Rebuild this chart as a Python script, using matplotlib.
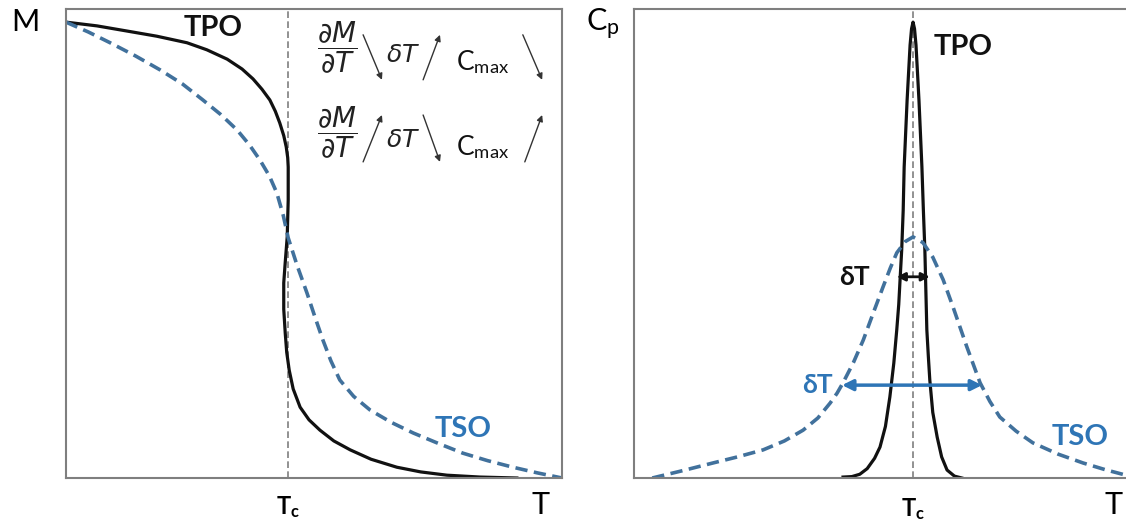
import matplotlib
matplotlib.use("Agg")
import matplotlib.pyplot as plt
from matplotlib.transforms import blended_transform_factory

plt.rcParams['font.family'] = ['Lato', 'DejaVu Sans']
plt.rcParams['mathtext.fontset'] = 'custom'
plt.rcParams['mathtext.rm'] = 'Lato'
plt.rcParams['mathtext.it'] = 'Lato:italic'
plt.rcParams['mathtext.bf'] = 'Lato:bold'

### data (T and M / Cp in arbitrary units 0..100)
Tc_left = 44.8
Tc_right = 56.6

# M(T), left panel
tpo_m_T = [0, 6.25, 12.3, 18.3, 24.4, 28.4, 32.5, 35.5, 37.7, 39.5, 41.1, 42.2, 43.1,
           43.9, 44.4, 44.7, 44.8, 44.8, 44.6, 44.2, 43.9, 43.9, 44.2, 44.5, 45.0,
           45.8, 47.2, 49.0, 51.2, 54.0, 57.3, 61.5, 66.7, 71.5, 76.8, 83.5, 90.9]
tpo_m_M = [97.2, 96.4, 95.3, 94.2, 92.8, 91.3, 89.3, 87.2, 85.1, 82.9, 80.6, 78.2, 75.7,
           73.0, 70.6, 68.3, 66.3, 59.3, 51.4, 46.0, 41.6, 36.0, 30.9, 26.8, 23.0,
           19.0, 15.1, 12.4, 10.2, 7.9, 6.0, 4.0, 2.3, 1.3, 0.6, 0.2, 0]
tso_m_T = [0, 4.5, 8.9, 14.0, 19.0, 23.5, 27.6, 31.2, 34.5, 37.0, 39.1, 41.0, 42.5,
           43.8, 44.8, 46.6, 48.6, 50.2, 51.8, 53.4, 55.2, 58.0, 61.3, 65.5, 70.0,
           75.0, 80.0, 85.0, 90.1, 95.0, 100]
tso_m_M = [97.2, 95.1, 92.8, 90.0, 87.0, 84.0, 80.6, 77.5, 74.2, 71.0, 67.8, 64.4, 60.8,
           56.0, 51.2, 45.3, 39.4, 34.3, 29.4, 25.0, 20.9, 17.4, 14.5, 11.9, 9.6,
           7.4, 5.3, 3.7, 2.3, 1.1, 0]

# Cp(T), right panel
tpo_c_T = [42.4, 44.2, 45.8, 47.3, 48.8, 49.9, 51.0, 51.9, 52.7, 53.3, 53.7, 54.0, 54.3,
           54.6, 54.8, 55.1, 55.4, 55.7, 56.0, 56.3, 56.6, 56.9, 57.2, 57.5, 57.8, 58.1,
           58.4, 58.7, 59.0, 59.2, 59.4, 59.7, 60.0, 60.6, 61.5, 62.4, 63.5, 65.0, 66.5]
tpo_c_C = [0.2, 0.3, 0.8, 2.0, 4.2, 6.6, 11.0, 17.3, 24.5, 31.6, 37.0, 42.9, 48.6,
           57.0, 66.3, 73.5, 80.6, 86.5, 92.3, 95.8, 97.2, 95.8, 92.3, 86.5, 80.6, 73.5,
           66.3, 57.0, 48.6, 40.0, 31.6, 26.0, 20.9, 14.0, 8.7, 4.5, 1.7, 0.4, 0]
tso_c_T = [3.7, 10.0, 16.0, 21.0, 26.2, 30.5, 34.3, 37.3, 39.8, 41.2, 42.4, 44.5, 46.5,
           48.5, 50.5, 52.0, 53.3, 55.0, 56.6, 58.6, 60.6, 62.7, 64.7, 67.5, 70.2, 72.2,
           74.2, 77.5, 80.9, 86.0, 91.1, 95.5, 99.8]
tso_c_C = [0, 1.6, 3.2, 4.5, 6.0, 7.9, 10.2, 12.8, 16.0, 18.1, 20.3, 24.6, 29.4,
           35.1, 40.7, 44.8, 48.0, 50.4, 51.4, 50.2, 47.1, 42.3, 36.5, 28.0, 20.3, 16.3,
           13.0, 10.0, 7.5, 5.1, 3.2, 1.8, 0.6]

# widths (delta T) at chosen heights: (left, right, height)
dT_tpo = (53.3, 60.0, 42.9)
dT_tso = (42.2, 70.6, 19.8)

# trend arrows next to the formulas: (tail, head)
trend_row1 = [((59.9, 94.5), (63.7, 84.9)), ((72.0, 84.9), (75.4, 94.5)), ((92.1, 94.5), (96.0, 84.9))]
trend_row2 = [((59.9, 67.4), (63.7, 77.4)), ((72.0, 77.4), (75.4, 67.4)), ((92.5, 67.4), (96.0, 77.4))]
row_y = [91.7, 73.6]

black = '#111111'
dash_blue = '#41719C'
lab_blue = '#2E75B6'
gray = '#7f7f7f'

fig = plt.figure(figsize=(11.26, 5.30), dpi=100)
ax1 = fig.add_axes([66/1126, 1-478/530, 496/1126, 469/530])
ax2 = fig.add_axes([634/1126, 1-478/530, 493/1126, 469/530])

for ax in (ax1, ax2):
    ax.set_xlim(0, 100)
    ax.set_ylim(0, 100)
    ax.set_xticks([])
    ax.set_yticks([])
    for s in ax.spines.values():
        s.set_color(gray)
        s.set_linewidth(1.5)
ax2.spines['right'].set_visible(False)

# left panel
ax1.axvline(Tc_left, color=gray, lw=1.2, ls=(0, (4, 2)))
ax1.plot(tpo_m_T, tpo_m_M, color=black, lw=2.3, solid_joinstyle='round')
ax1.plot(tso_m_T, tso_m_M, color=dash_blue, lw=2.6, dashes=(3.4, 1.8))
ax1.text(29.6, 96.0, 'TPO', fontsize=21, fontweight='bold', color=black, ha='center', va='center')
ax1.text(80.0, 10.5, 'TSO', fontsize=21, fontweight='bold', color=lab_blue, ha='center', va='center')

for y in row_y:
    ax1.text(54.6, y, r'$\dfrac{\partial M}{\partial T}$', fontsize=20, color='#222222',
             ha='center', va='center', math_fontfamily='dejavusans')
    ax1.text(68.0, y - 1.5, r'$\delta T$', fontsize=18, color='#222222',
             ha='center', va='center', math_fontfamily='dejavusans')
    ax1.text(84.0, y - 3.0, r'C$_\mathregular{max}$', fontsize=19, color='#111111',
             ha='center', va='center')
for tail, head in trend_row1 + trend_row2:
    ax1.annotate('', xy=head, xytext=tail,
                 arrowprops=dict(arrowstyle='-|>', lw=1.0, color='#333333',
                                 mutation_scale=9, shrinkA=0, shrinkB=0))

tr1 = blended_transform_factory(ax1.transData, ax1.transAxes)
ax1.text(Tc_left, -0.062, r'$\mathbf{T_c}$', transform=tr1, fontsize=17,
         ha='center', va='center')
ax1.text(95.6, -0.057, 'T', transform=tr1, fontsize=22, ha='center', va='center')

# right panel
ax2.axvline(Tc_right, color=gray, lw=1.2, ls=(0, (4, 2)))
ax2.plot(tpo_c_T, tpo_c_C, color=black, lw=2.3, solid_joinstyle='round')
ax2.plot(tso_c_T, tso_c_C, color=dash_blue, lw=2.6, dashes=(3.4, 1.8))
ax2.annotate('', xy=(dT_tpo[0], dT_tpo[2]), xytext=(dT_tpo[1], dT_tpo[2]),
             arrowprops=dict(arrowstyle='<|-|>', lw=2.0, color=black,
                             mutation_scale=12, shrinkA=0, shrinkB=0))
ax2.annotate('', xy=(dT_tso[0], dT_tso[2]), xytext=(dT_tso[1], dT_tso[2]),
             arrowprops=dict(arrowstyle='<|-|>', lw=2.5, color=lab_blue,
                             mutation_scale=16, shrinkA=0, shrinkB=0))
ax2.text(44.8, 42.9, 'δT', fontsize=19, fontweight='bold', color=black, ha='center', va='center')
ax2.text(37.3, 19.8, 'δT', fontsize=19, fontweight='bold', color=lab_blue, ha='center', va='center')
ax2.text(66.7, 92.0, 'TPO', fontsize=21, fontweight='bold', color=black, ha='center', va='center')
ax2.text(90.5, 8.8, 'TSO', fontsize=21, fontweight='bold', color=lab_blue, ha='center', va='center')

tr2 = blended_transform_factory(ax2.transData, ax2.transAxes)
ax2.text(Tc_right, -0.066, r'$\mathbf{T_c}$', transform=tr2, fontsize=17,
         ha='center', va='center')
ax2.text(97.2, -0.057, 'T', transform=tr2, fontsize=22, ha='center', va='center')

fig.text(25/1126, 1-22/530, 'M', fontsize=22, ha='center', va='center')
fig.text(603/1126, 1-24/530, r'C$_\mathregular{p}$', fontsize=22, ha='center', va='center')

fig.savefig('out.png', dpi=100)
